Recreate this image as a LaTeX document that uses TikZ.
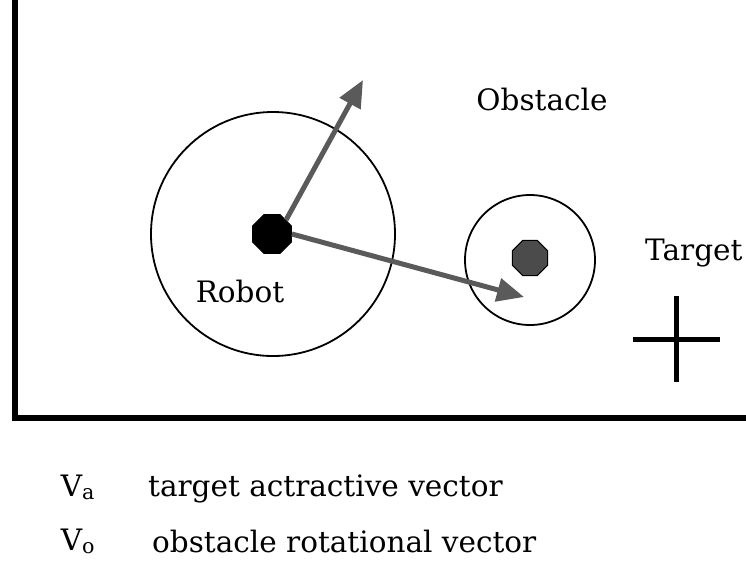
\documentclass[tikz,border=0pt]{standalone}
\usepackage{fontspec}
\setmainfont{DejaVu Serif}
\usepackage{tikz}
\usetikzlibrary{shapes.geometric,arrows.meta}
\definecolor{vec_gray}{RGB}{90,90,90}
\definecolor{obst_gray}{RGB}{75,75,75}

\begin{document}
\begin{tikzpicture}[x=1pt, y=-1pt,
    txt/.style={font=\fontsize{29.5}{35}\selectfont, inner sep=0pt},
    disk/.style={draw, regular polygon, regular polygon sides=8, minimum size=42pt, inner sep=0pt, line width=1pt},
    zone/.style={draw, circle, line width=1.8pt, inner sep=0pt},
    vec/.style={vec_gray, line width=5pt, -{Triangle[length=27pt,width=23pt]}},
    heavy/.style={line width=6pt}]
    \useasboundingbox (0,0) rectangle (746,563);

    % Frame
    \draw[heavy] (15,0) -- (15,418) -- (746,418);

    % Nodes
    \node[zone, minimum size=244pt] (robotzone) at (273,234) {};
    \node[zone, minimum size=130pt] (obstzone) at (530,260) {};
    \node[disk, fill=black] (robot) at (272,234) {};
    \node[disk, fill=obst_gray, minimum size=38pt] (obst) at (530,258) {};
    \node[txt, anchor=base] (obstlabel) at (542,110) {Obstacle};
    \node[txt, anchor=base] (robotlabel) at (240,302) {Robot};
    \node[txt, anchor=base west] (targetlabel) at (645,260) {Target};

    % Target cross
    \coordinate (target) at (676,339);
    \draw[heavy, line width=5pt] ([xshift=-43pt]target) -- ([xshift=44pt]target);
    \draw[heavy, line width=5pt] ([yshift=-43pt]target) -- ([yshift=43pt]target);

    % Arrows
    \coordinate (vatip) at (363,80);
    \coordinate (votip) at (524,297);
    \draw[vec] (robot.45) -- (vatip);
    \draw[vec] (robot.east) -- (votip);

    % Legend
    \node[txt, anchor=base] (va) at (78,496) {V\textsubscript{a}};
    \node[txt, anchor=base west] (vatext) at (148,496) {target actractive vector};
    \node[txt, anchor=base] (vo) at (78,550) {V\textsubscript{o}};
    \node[txt, anchor=base west] (votext) at (152,552) {obstacle rotational vector};
\end{tikzpicture}
\end{document}
